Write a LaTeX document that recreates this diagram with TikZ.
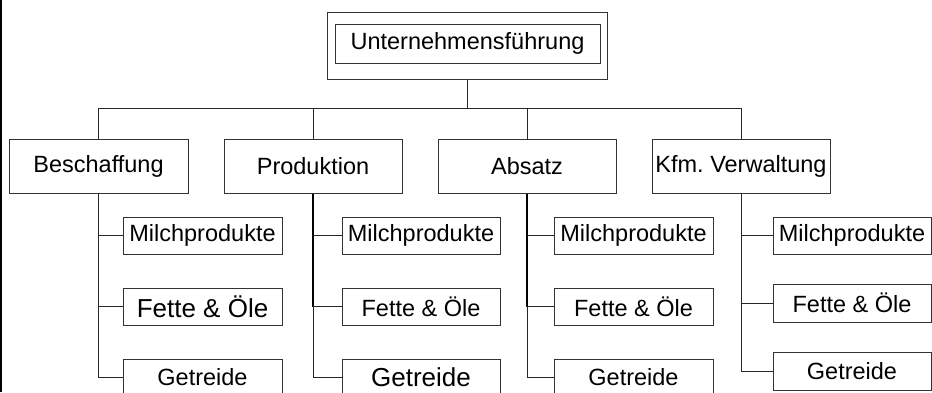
\documentclass[tikz,border=0pt]{standalone}
\usepackage{fontspec}
\setmainfont{Liberation Sans}
\frenchspacing
\begin{document}
\begin{tikzpicture}[x=1pt,y=-1pt,
  box/.style={draw=black!80,line width=1pt,rectangle,inner sep=0pt,fill=white,
    font=\fontsize{23.5}{28}\selectfont},
  big/.style={font=\fontsize{26}{30}\selectfont},
  lvl/.style={box,minimum width=178pt,minimum height=54pt},
  leaf/.style={box,minimum width=158pt,minimum height=37pt},
  con/.style={draw=black!85,line width=1pt},
  thick con/.style={draw=black,line width=1.8pt}]
\useasboundingbox (0,0) rectangle (932,392);
\clip (0,0) rectangle (932,392);
\fill[white] (0,0) rectangle (932,392);
\draw[black,line width=2pt] (1,0) -- (1,392);
% top
\node[box,minimum width=280pt,minimum height=67pt] (topo) at (467,45.5) {};
\node[box,minimum width=265pt,minimum height=39pt] (top) at (467.5,43.5) {Unternehmensführung};
% level 2
\node[lvl,minimum width=179pt] (b1) at (98.5,166) {Beschaffung};
\node[lvl] (b2) at (313,166) {Produktion};
\node[lvl] (b3) at (527,166) {Absatz};
\node[lvl] (b4) at (741,166) {Kfm.\ Verwaltung};
\coordinate (bus) at (467,108);
\draw[con] (topo.south) -- (bus);
\draw[con] (b1.north) -- (b1.north |- bus) -- (b4.north |- bus) -- (b4.north);
\draw[con] (b2.north) -- (b2.north |- bus);
\draw[con] (b3.north) -- (b3.north |- bus);
% leaves
\node[leaf,minimum width=159pt] (l11) at (202.5,235.5) {Milchprodukte};
\node[leaf,minimum width=159pt,big] (l12) at (202.5,306.5) {Fette \& Öle};
\node[leaf,minimum width=159pt] (l13) at (202.5,377.5) {Getreide};
\node[leaf] (l21) at (421,235.5) {Milchprodukte};
\node[leaf] (l22) at (421,306.5) {Fette \& Öle};
\node[leaf,big] (l23) at (421,377.5) {Getreide};
\node[leaf,minimum width=159pt] (l31) at (633.5,235.5) {Milchprodukte};
\node[leaf,minimum width=159pt] (l32) at (633.5,306.5) {Fette \& Öle};
\node[leaf,minimum width=159pt] (l33) at (633.5,377.5) {Getreide};
\node[leaf] (l41) at (852,235.5) {Milchprodukte};
\node[leaf,minimum height=38pt] (l42) at (852,303) {Fette \& Öle};
\node[leaf,minimum height=38pt] (l43) at (852,371) {Getreide};
% connectors
\draw[con] (b1.south) |- (l13.west);
\draw[con] (b1.south |- l11.west) -- (l11.west);
\draw[con] (b1.south |- l12.west) -- (l12.west);
\draw[thick con] (b2.south) -- (b2.south |- l22.west);
\draw[con] (b2.south |- l22.west) |- (l23.west);
\draw[con] (b2.south |- l21.west) -- (l21.west);
\draw[con] (b2.south |- l22.west) -- (l22.west);
\draw[thick con] (b3.south) -- (b3.south |- l32.west);
\draw[con] (b3.south |- l32.west) |- (l33.west);
\draw[con] (b3.south |- l31.west) -- (l31.west);
\draw[con] (b3.south |- l32.west) -- (l32.west);
\draw[con] (b4.south) |- (l43.west);
\draw[con] (b4.south |- l41.west) -- (l41.west);
\draw[con] (b4.south |- l42.west) -- (l42.west);
\end{tikzpicture}
\end{document}
